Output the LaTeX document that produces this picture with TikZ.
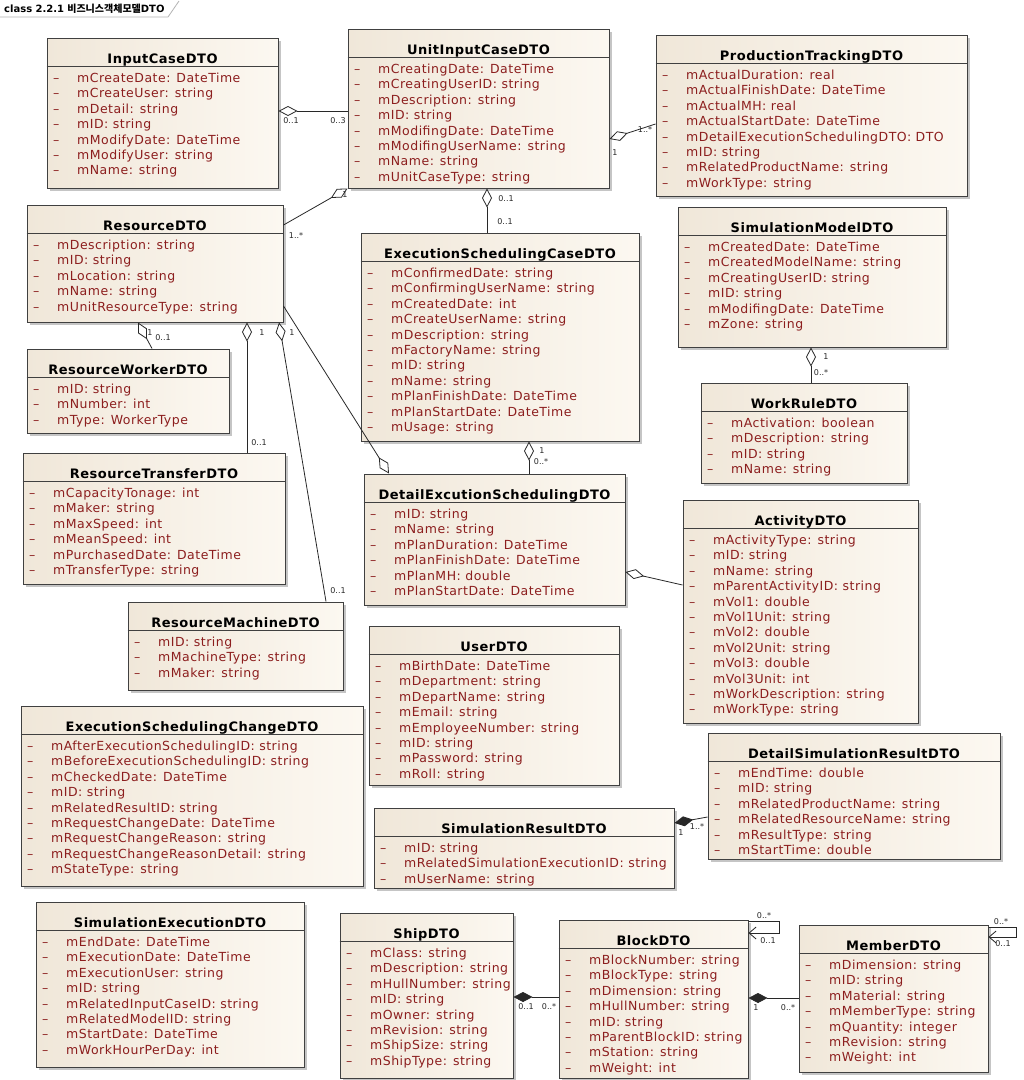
\documentclass[tikz,border=0pt]{standalone}
\usepackage{fontspec}
\setmainfont{DejaVu Sans}
\newfontfamily\clsfont{DejaVu Sans}[LetterSpace=4]
\newfontfamily\krfont{Noto Sans CJK KR}
\usetikzlibrary{arrows.meta,shadows}
\definecolor{clsedge}{RGB}{64,64,64}
\definecolor{clsleft}{RGB}{240,231,217}
\definecolor{clsright}{RGB}{252,248,241}
\definecolor{attrred}{RGB}{140,30,30}
\definecolor{linkgrey}{RGB}{40,40,40}
\definecolor{tabgrey}{RGB}{180,180,180}
\tikzset{% This is the style settings for the class boxes and links
    cls/.style={draw=clsedge, line width=1pt, left color=clsleft, right color=clsright, inner sep=0pt,
        drop shadow={shadow xshift=3pt, shadow yshift=-3pt, fill=black!45, opacity=0.5}},
    clstitle/.style={anchor=base, inner sep=0pt, font=\clsfont\bfseries\fontsize{13}{15}\selectfont},
    clsattr/.style={anchor=base west, inner sep=0pt, text=attrred, font=\clsfont\fontsize{12.5}{15}\selectfont},
    clsline/.style={draw=clsedge, line width=1pt},
    agg/.style={draw=linkgrey, line width=0.8pt, {Diamond[open,length=19pt,width=10pt]}-},
    comp/.style={draw=linkgrey, line width=0.8pt, {Diamond[length=19pt,width=10pt]}-},
    selfref/.style={draw=linkgrey, line width=0.8pt, -{Straight Barb[length=7pt,width=12pt]}},
    mult/.style={inner sep=0pt, text=linkgrey, font=\fontsize{8}{9}\selectfont},
    tabtext/.style={anchor=west, inner sep=0pt, font=\fontsize{10}{12}\selectfont}}
% class box: name, left, top, right, bottom, title, attributes
\newcommand{\dtoclass}[7]{%
  \node[cls, minimum width={(#4-#2)*1pt}, minimum height={(#5-#3)*1pt}] (#1) at ({(#2+#4)/2},{(#3+#5)/2}) {};
  \node[clstitle] (#1-t) at ({(#2+#4)/2},{#3+25}) {#6};
  \draw[clsline] (#1.west |- 0,{#3+28}) -- (#1.east |- 0,{#3+28});
  \foreach \a [count=\i] in {#7} {
    \node[clsattr] (#1-d\i) at ({#2+6},{#3+44.5+(\i-1)*15.4}) {–};
    \node[clsattr] (#1-a\i) at ({#2+30},{#3+44.5+(\i-1)*15.4}) {\a};
  }%
}

\begin{document}
\begin{tikzpicture}[x=1pt, y=-1pt]
  \fill[white] (0,0) rectangle (1024,1080);
  \useasboundingbox (0,0) rectangle (1024,1080);

  \draw[tabgrey, line width=0.8pt] (0,17) -- (168,17) -- (179,1);
  \node[tabtext] (tab) at (4,9) {\textbf{class 2.2.1} {\krfont\bfseries 비즈니스객체모델}\textbf{DTO}};

  \dtoclass{icase}{47}{38}{278}{188}{InputCaseDTO}{mCreateDate: DateTime, mCreateUser: string,
    mDetail: string, mID: string, mModifyDate: DateTime, mModifyUser: string, mName: string}
  \dtoclass{uicase}{348}{29}{609}{188}{UnitInputCaseDTO}{mCreatingDate: DateTime,
    mCreatingUserID: string, mDescription: string, mID: string, mModifingDate: DateTime,
    mModifingUserName: string, mName: string, mUnitCaseType: string}
  \dtoclass{ptrack}{656}{35}{967}{196}{ProductionTrackingDTO}{mActualDuration: real,
    mActualFinishDate: DateTime, mActualMH: real, mActualStartDate: DateTime,
    mDetailExecutionSchedulingDTO: DTO, mID: string, mRelatedProductName: string, mWorkType: string}
  \dtoclass{res}{27}{205}{283}{322}{ResourceDTO}{mDescription: string, mID: string,
    mLocation: string, mName: string, mUnitResourceType: string}
  \dtoclass{rworker}{27}{349}{229}{433}{ResourceWorkerDTO}{mID: string, mNumber: int, mType: WorkerType}
  \dtoclass{esc}{361}{233}{639}{441}{ExecutionSchedulingCaseDTO}{mConfirmedDate: string,
    mConfirmingUserName: string, mCreatedDate: int, mCreateUserName: string, mDescription: string,
    mFactoryName: string, mID: string, mName: string, mPlanFinishDate: DateTime,
    mPlanStartDate: DateTime, mUsage: string}
  \dtoclass{simmodel}{678}{207}{946}{347}{SimulationModelDTO}{mCreatedDate: DateTime,
    mCreatedModelName: string, mCreatingUserID: string, mID: string, mModifingDate: DateTime, mZone: string}
  \dtoclass{workrule}{701}{383}{907}{483}{WorkRuleDTO}{mActivation: boolean, mDescription: string,
    mID: string, mName: string}
  \dtoclass{rtrans}{23}{453}{285}{584}{ResourceTransferDTO}{mCapacityTonage: int, mMaker: string,
    mMaxSpeed: int, mMeanSpeed: int, mPurchasedDate: DateTime, mTransferType: string}
  \dtoclass{rmach}{128}{602}{343}{690}{ResourceMachineDTO}{mID: string, mMachineType: string, mMaker: string}
  \dtoclass{dexec}{364}{474}{625}{605}{DetailExcutionSchedulingDTO}{mID: string, mName: string,
    mPlanDuration: DateTime, mPlanFinishDate: DateTime, mPlanMH: double, mPlanStartDate: DateTime}
  \dtoclass{user}{369}{626}{619}{785}{UserDTO}{mBirthDate: DateTime, mDepartment: string,
    mDepartName: string, mEmail: string, mEmployeeNumber: string, mID: string, mPassword: string, mRoll: string}
  \dtoclass{activity}{683}{500}{918}{723}{ActivityDTO}{mActivityType: string, mID: string, mName: string,
    mParentActivityID: string, mVol1: double, mVol1Unit: string, mVol2: double, mVol2Unit: string,
    mVol3: double, mVol3Unit: int, mWorkDescription: string, mWorkType: string}
  \dtoclass{dsimres}{708}{733}{1000}{859}{DetailSimulationResultDTO}{mEndTime: double, mID: string,
    mRelatedProductName: string, mRelatedResourceName: string, mResultType: string, mStartTime: double}
  \dtoclass{simres}{374}{808}{674}{888}{SimulationResultDTO}{mID: string,
    mRelatedSimulationExecutionID: string, mUserName: string}
  \dtoclass{eschange}{21}{706}{363}{886}{ExecutionSchedulingChangeDTO}{mAfterExecutionSchedulingID: string,
    mBeforeExecutionSchedulingID: string, mCheckedDate: DateTime, mID: string, mRelatedResultID: string,
    mRequestChangeDate: DateTime, mRequestChangeReason: string, mRequestChangeReasonDetail: string,
    mStateType: string}
  \dtoclass{simexec}{36}{902}{304}{1067}{SimulationExecutionDTO}{mEndDate: DateTime,
    mExecutionDate: DateTime, mExecutionUser: string, mID: string, mRelatedInputCaseID: string,
    mRelatedModelID: string, mStartDate: DateTime, mWorkHourPerDay: int}
  \dtoclass{ship}{340}{913}{513}{1078}{ShipDTO}{mClass: string, mDescription: string,
    mHullNumber: string, mID: string, mOwner: string, mRevision: string, mShipSize: string, mShipType: string}
  \dtoclass{block}{559}{920}{748}{1078}{BlockDTO}{mBlockNumber: string, mBlockType: string,
    mDimension: string, mHullNumber: string, mID: string, mParentBlockID: string, mStation: string, mWeight: int}
  \dtoclass{member}{799}{925}{988}{1072}{MemberDTO}{mDimension: string, mID: string, mMaterial: string,
    mMemberType: string, mQuantity: integer, mRevision: string, mWeight: int}

  % links
  \draw[agg] (icase.east |- 0,111) -- (uicase.west |- 0,111);
  \draw[agg] (uicase.south west) -- (res.east |- 0,225);
  \draw[agg] (uicase.east |- 0,139) -- (ptrack.west |- 0,124);
  \draw[agg] (uicase.south -| 487,0) -- (esc.north -| 487,0);
  \draw[agg] (esc.south -| 529,0) -- (dexec.north -| 529,0);
  \draw[agg] (dexec.north -| 389,0) -- (res.east |- 0,306);
  \draw[agg] (res.south -| 138,0) -- (rworker.north -| 152,0);
  \draw[agg] (res.south -| 247,0) -- (rtrans.north -| 247,0);
  \draw[agg] (res.south -| 279,0) -- (rmach.north -| 326,0);
  \draw[agg] (dexec.east |- 0,572) -- (activity.west |- 0,585);
  \draw[agg] (simmodel.south -| 811,0) -- (workrule.north -| 811,0);
  \draw[comp] (simres.east |- 0,823) -- (dsimres.west |- 0,817);
  \draw[comp] (ship.east |- 0,997) -- (block.west |- 0,997);
  \draw[comp] (block.east |- 0,998) -- (member.west |- 0,998);
  \draw[selfref] (block.east |- 0,921) -- ++(31,0) -- ++(0,12) -- (block.east |- 0,933);
  \draw[selfref] (member.east |- 0,927) -- ++(28,0) -- ++(0,10) -- (member.east |- 0,937);

  % multiplicities
  \node[mult] (m1) at (291,121) {0..1};
  \node[mult] (m2) at (338,121) {0..3};
  \node[mult] (m3) at (345,195) {1};
  \node[mult] (m4) at (296,236) {1..*};
  \node[mult] (m5) at (615,153) {1};
  \node[mult] (m6) at (645,130) {1..*};
  \node[mult] (m7) at (506,199) {0..1};
  \node[mult] (m8) at (505,222) {0..1};
  \node[mult] (m9) at (542,451) {1};
  \node[mult] (m10) at (541,462) {0..*};
  \node[mult] (m11) at (150,333) {1};
  \node[mult] (m12) at (163,338) {0..1};
  \node[mult] (m13) at (262,333) {1};
  \node[mult] (m14) at (259,443) {0..1};
  \node[mult] (m15) at (292,333) {1};
  \node[mult] (m16) at (338,591) {0..1};
  \node[mult] (m17) at (826,357) {1};
  \node[mult] (m18) at (821,373) {0..*};
  \node[mult] (m19) at (681,833) {1};
  \node[mult] (m20) at (697,827) {1..*};
  \node[mult] (m21) at (526,1007) {0..1};
  \node[mult] (m22) at (549,1007) {0..*};
  \node[mult] (m23) at (756,1008) {1};
  \node[mult] (m24) at (788,1008) {0..*};
  \node[mult] (m25) at (764,916) {0..*};
  \node[mult] (m26) at (768,941) {0..1};
  \node[mult] (m27) at (1001,922) {0..*};
  \node[mult] (m28) at (1003,944) {0..1};
\end{tikzpicture}
\end{document}
